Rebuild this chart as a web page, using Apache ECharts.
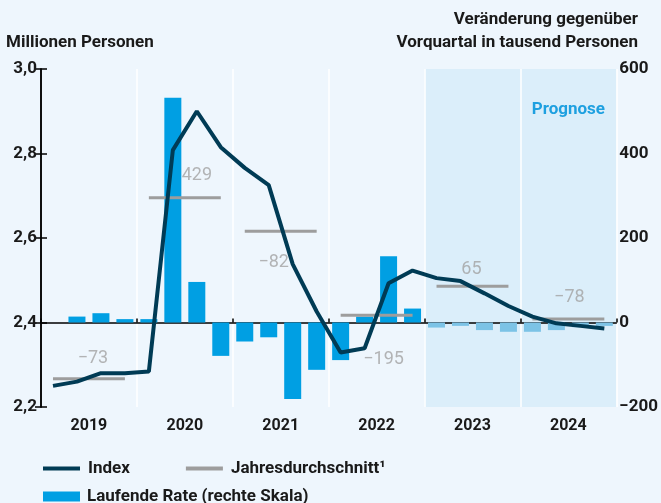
<!DOCTYPE html>
<html>
<head>
<meta charset="utf-8">
<script src="https://cdn.jsdelivr.net/npm/echarts@6/dist/echarts.min.js"></script>
<style>
  html, body { margin: 0; padding: 0; background: #eef6fd; }
  #chart { width: 661px; height: 503px; }
</style>
</head>
<body>
<div id="chart"></div>
<script>
// Daten
const years = ['2019', '2020', '2021', '2022', '2023', '2024']
const quarters = ['Q1', 'Q2', 'Q3', 'Q4']
// Index, Millionen Personen (linke Skala)
const indexValues = [
  2.250, 2.260, 2.280, 2.280,
  2.284, 2.808, 2.900, 2.815,
  2.766, 2.725, 2.538, 2.426,
  2.329, 2.339, 2.493, 2.523,
  2.505, 2.498, 2.469, 2.439,
  2.414, 2.398, 2.392, 2.386
]
// Laufende Rate, tausend Personen (rechte Skala)
const rateValues = [
  0, 14, 22, 8,
  8, 532, 96, -79,
  -45, -35, -181, -112,
  -89, 14, 157, 33,
  -12, -8, -18, -22,
  -22, -18, -11, -8
]
// Jahresdurchschnitt des Index (linke Skala)
const annualAvg = [2.267, 2.695, 2.616, 2.417, 2.486, 2.408]
// Veränderung gegenüber Vorjahr, tausend Personen
const annualChange = [-73, 429, -82, -195, 65, -78]
const forecastStart = 16

const fontFamily = 'Roboto, "Liberation Sans", sans-serif'
const colors = {
  index: '#003b55',
  bar: '#009fe3',
  barForecast: '#7cc3e6',
  avg: '#9d9d9d',
  avgLabel: '#a3a3a3',
  shade: '#dbeefa',
  text: '#1a1a1a',
  prognose: '#1ea0e0'
}
// Labelversatz je Jahr (x, y in px)
const labelOffsets = [[4, -20], [12, -22], [-7, 31], [7, 44], [-1, -17], [1, -22]]

const categories = []
years.forEach(y => quarters.forEach(q => categories.push(y + q)))

function fmtMinus(v) {
  return v < 0 ? '\u2212' + Math.abs(v) : String(v)
}

const avgSeries = annualAvg.map((v, i) => ({
  name: 'Jahresdurchschnitt\u00b9',
  type: 'line',
  xAxisIndex: 1,
  yAxisIndex: 0,
  symbol: 'none',
  lineStyle: { color: colors.avg, width: 3 },
  itemStyle: { color: colors.avg },
  z: 4,
  data: [[i * 4 + 0.5, v], [i * 4 + 3.5, v]]
}))

const labelSeries = {
  type: 'scatter',
  xAxisIndex: 1,
  yAxisIndex: 0,
  symbolSize: 0,
  silent: true,
  z: 6,
  data: annualAvg.map((v, i) => ({
    value: [i * 4 + 2, v],
    label: {
      show: true,
      position: 'inside',
      offset: labelOffsets[i],
      formatter: fmtMinus(annualChange[i]),
      color: colors.avgLabel,
      fontSize: 18,
      fontFamily: fontFamily
    }
  }))
}

const boldText = { fontSize: 17, fontWeight: 'bold', fill: colors.text, fontFamily: fontFamily }

const chart = echarts.init(document.getElementById('chart'))

const option = {
  backgroundColor: '#eef6fd',
  animation: false,
  textStyle: { fontFamily: fontFamily },
  grid: { left: 41, right: 44, top: 69, bottom: 96 },
  xAxis: [
    {
      type: 'category',
      data: categories,
      show: false
    },
    {
      // Jahresbeschriftung unten
      type: 'value',
      min: 0,
      max: 24,
      interval: 2,
      position: 'bottom',
      axisLine: { show: false },
      axisTick: { show: false },
      axisLabel: {
        margin: 11,
        fontSize: 16,
        fontWeight: 'bold',
        color: colors.text,
        fontFamily: fontFamily,
        formatter: v => (v % 4 === 2 ? String(2019 + (v - 2) / 4) : '')
      },
      splitLine: { show: false }
    },
    {
      // Nulllinie mit Jahresticks, Schattierung, weiße Trennlinien
      type: 'value',
      min: 0,
      max: 24,
      interval: 4,
      axisLine: { onZero: true, onZeroAxisIndex: 1, lineStyle: { color: '#000', width: 1.5 } },
      axisTick: { show: true, length: 4, lineStyle: { color: '#000', width: 1.5 } },
      axisLabel: { show: false },
      splitLine: { show: true, lineStyle: { color: '#ffffff', width: 1.5 } },
      splitArea: {
        show: true,
        areaStyle: {
          color: ['rgba(0,0,0,0)', 'rgba(0,0,0,0)', 'rgba(0,0,0,0)', 'rgba(0,0,0,0)', colors.shade, colors.shade]
        }
      }
    }
  ],
  yAxis: [
    {
      type: 'value',
      min: 2.2,
      max: 3.0,
      interval: 0.2,
      position: 'left',
      axisLine: { show: true, lineStyle: { color: '#000', width: 1.5 } },
      axisTick: { show: true, length: 6, lineStyle: { color: '#000', width: 1.5 } },
      axisLabel: {
        margin: 4,
        fontSize: 17,
        fontWeight: 'bold',
        color: colors.text,
        fontFamily: fontFamily,
        formatter: v => v.toFixed(1).replace('.', ',')
      },
      splitLine: { show: false }
    },
    {
      type: 'value',
      min: -200,
      max: 600,
      interval: 200,
      position: 'right',
      axisLine: { show: true, lineStyle: { color: '#000', width: 1.5 } },
      axisTick: { show: true, length: 6, lineStyle: { color: '#000', width: 1.5 } },
      axisLabel: {
        margin: 3,
        fontSize: 17,
        fontWeight: 'bold',
        color: colors.text,
        fontFamily: fontFamily,
        formatter: v => fmtMinus(v)
      },
      splitLine: { show: false }
    }
  ],
  legend: [
    {
      left: 38,
      top: 455,
      itemWidth: 37,
      itemHeight: 4,
      itemGap: 56,
      textStyle: { fontSize: 17, fontWeight: 'bold', color: colors.text, fontFamily: fontFamily, padding: [0, 0, 0, 3] },
      data: [
        { name: 'Index', icon: 'rect' },
        { name: 'Jahresdurchschnitt\u00b9', icon: 'rect', itemStyle: { color: colors.avg } }
      ],
      selectedMode: false
    },
    {
      left: 38,
      top: 483,
      itemWidth: 37,
      itemHeight: 10,
      textStyle: { fontSize: 17, fontWeight: 'bold', color: colors.text, fontFamily: fontFamily, padding: [0, 0, 0, 2] },
      data: [{ name: 'Laufende Rate (rechte Skala)', icon: 'rect' }],
      selectedMode: false
    }
  ],
  graphic: [
    {
      id: 'leftName',
      type: 'text',
      x: 6,
      y: 43,
      style: Object.assign({ text: 'Millionen Personen', align: 'left', verticalAlign: 'middle' }, boldText)
    },
    {
      id: 'rightName1',
      type: 'text',
      x: 638,
      y: 20,
      style: Object.assign({ text: 'Veränderung gegenüber', align: 'right', verticalAlign: 'middle' }, boldText)
    },
    {
      id: 'rightName2',
      type: 'text',
      x: 638,
      y: 43,
      style: Object.assign({ text: 'Vorquartal in tausend Personen', align: 'right', verticalAlign: 'middle' }, boldText)
    },
    {
      id: 'prognose',
      type: 'text',
      x: 605,
      y: 110,
      z: 100,
      style: {
        text: 'Prognose',
        align: 'right',
        verticalAlign: 'middle',
        fontSize: 17,
        fontWeight: 'bold',
        fill: colors.prognose,
        fontFamily: fontFamily
      }
    }
  ],
  series: [
    {
      name: 'Laufende Rate (rechte Skala)',
      type: 'bar',
      xAxisIndex: 0,
      yAxisIndex: 1,
      barWidth: 17,
      itemStyle: { color: colors.bar },
      z: 3,
      data: rateValues.map((v, i) => (i >= forecastStart
        ? { value: v, itemStyle: { color: colors.barForecast } }
        : v))
    },
    ...avgSeries,
    {
      name: 'Index',
      type: 'line',
      xAxisIndex: 0,
      yAxisIndex: 0,
      symbol: 'none',
      lineStyle: { color: colors.index, width: 4 },
      itemStyle: { color: colors.index },
      z: 5,
      data: indexValues
    },
    labelSeries
  ]
}

chart.setOption(option)
</script>
</body>
</html>
